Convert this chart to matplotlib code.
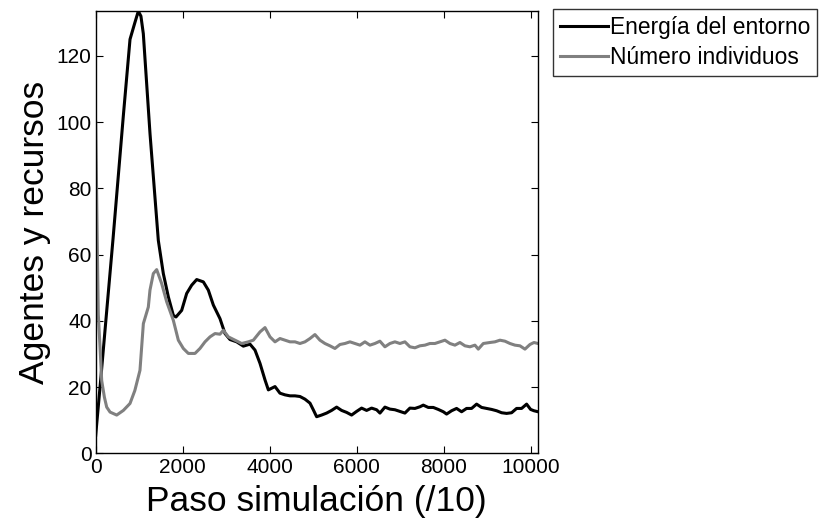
import matplotlib
matplotlib.use("Agg")
import matplotlib.pyplot as plt

plt.rcParams['font.family'] = ['Liberation Sans', 'DejaVu Sans']

# Energía del entorno (simulation step /10, value)
energia_x = [0, 120, 253, 400, 636, 789, 900, 980, 1040, 1095, 1249, 1440, 1555, 1670,
             1785, 1846, 1977, 2092, 2207, 2322, 2475, 2590, 2705, 2858, 2973, 3088,
             3241, 3395, 3548, 3663, 3778, 3893, 3970, 4123,
             4237, 4352, 4467, 4582, 4697, 4812, 4927, 5003, 5080, 5194, 5310, 5424,
             5540, 5654, 5770, 5884, 5999, 6114, 6229, 6344, 6459, 6536, 6650, 6765,
             6880, 6995, 7110, 7225, 7340, 7455, 7532, 7647, 7762, 7877, 7992, 8068,
             8183, 8298, 8413, 8528, 8643, 8758, 8873, 8988, 9103, 9218, 9333, 9448,
             9563, 9678, 9793, 9908, 10000, 10077, 10170]
energia_y = [5.5, 23, 43, 65, 102, 125, 130, 133.5, 132, 126.7, 96.5, 64.3, 54.3, 47.3,
             41.7, 41.2, 43.2, 48.3, 50.8, 52.5, 51.8, 49.3, 44.8, 40.7, 36.2, 34.4,
             33.7, 32.4, 33.0, 31.2, 27.2, 22.2, 19.2, 20.2,
             18.2, 17.7, 17.4, 17.4, 17.2, 16.4, 15.2, 13.2, 11.1, 11.6, 12.2, 13.0,
             14.0, 13.0, 12.4, 11.6, 12.7, 13.7, 13.0, 13.7, 13.2, 12.2, 14.0, 13.4,
             13.2, 12.7, 12.2, 13.7, 13.6, 14.1, 14.6, 13.9, 13.9, 13.3, 12.6, 11.9,
             12.9, 13.6, 12.6, 13.6, 13.6, 14.9, 13.9, 13.6, 13.3, 12.9, 12.3, 12.1,
             12.3, 13.6, 13.6, 14.9, 13.3, 12.9, 12.6]

# Número individuos (simulation step /10, value)
individuos_x = [0, 20, 40, 60, 100, 138, 200, 253, 330, 483, 636, 789, 900, 1018, 1096,
                1210, 1248, 1325, 1402, 1517, 1632, 1785, 1900, 2015, 2130, 2283, 2398,
                2513, 2628, 2743, 2858, 2935, 3050, 3203, 3356, 3510, 3625, 3778, 3893,
                4008, 4123,
                4237, 4352, 4467, 4582, 4697, 4812, 4927, 5041, 5156, 5271, 5386, 5501,
                5616, 5731, 5846, 5961, 6076, 6191, 6306, 6420, 6535, 6650, 6765, 6880,
                6995, 7110, 7225, 7340, 7455, 7570, 7685, 7800, 7915, 8030, 8145, 8260,
                8375, 8490, 8605, 8720, 8797, 8912, 9065, 9180, 9295, 9410, 9525, 9640,
                9755, 9870, 9985, 10077, 10170]
individuos_y = [100, 80, 60, 42, 32, 22, 17, 14, 12.5, 11.6, 13, 15.1, 19, 25.1, 39.2,
                44.2, 49.3, 54.3, 55.5, 51.3, 45.8, 40.2, 34.2, 31.7, 30.2, 30.2, 31.7,
                33.7, 35.2, 36.2, 36.0, 37.2, 35.2, 34.2, 33.2, 33.7, 34.2, 36.7, 38.0,
                35.2, 33.7,
                34.7, 34.2, 33.7, 33.7, 33.2, 33.7, 34.7, 35.9, 34.2, 33.2, 32.5, 31.7,
                32.9, 33.2, 33.7, 33.2, 32.7, 33.7, 32.7, 33.2, 33.9, 32.2, 33.2, 33.7,
                33.2, 33.7, 32.2, 31.9, 32.5, 32.7, 33.2, 33.2, 33.7, 34.2, 33.2, 32.7,
                33.5, 32.5, 32.2, 32.7, 31.5, 33.2, 33.5, 33.7, 34.2, 33.9, 33.2, 32.7,
                32.5, 31.5, 32.9, 33.5, 33.2]

xticks = [0, 2000, 4000, 6000, 8000, 10000]
yticks = [0, 20, 40, 60, 80, 100, 120]

fig = plt.figure(figsize=(8.2, 5.23), dpi=100)
ax = fig.add_axes([0.1167, 0.1329, 0.5394, 0.8470])

ax.plot(energia_x, energia_y, color='black', lw=2.2, label='Energía del entorno')
ax.plot(individuos_x, individuos_y, color='#808080', lw=2.2, label='Número individuos')

ax.set_xlim(0, 10170)
ax.set_ylim(0, 133.7)
ax.set_xticks(xticks)
ax.set_yticks(yticks)
ax.tick_params(direction='in', top=True, right=True, length=5, width=0.8,
               labelsize=15, pad=3)
for s in ax.spines.values():
    s.set_linewidth(1.0)

ax.set_xlabel('Paso simulación (/10)', fontsize=25.5, labelpad=6)
ax.set_ylabel('Agentes y recursos', fontsize=25.5, labelpad=4)

leg = ax.legend(loc='upper left', bbox_to_anchor=(553 / 820, 1 - 9 / 523),
                bbox_transform=fig.transFigure, fontsize=16.4, frameon=True,
                fancybox=False, edgecolor='black', handlelength=2.1,
                handletextpad=0.1, borderpad=0.3, labelspacing=0.3,
                borderaxespad=0)
leg.get_frame().set_linewidth(1.0)

fig.savefig('out.png', dpi=100)
